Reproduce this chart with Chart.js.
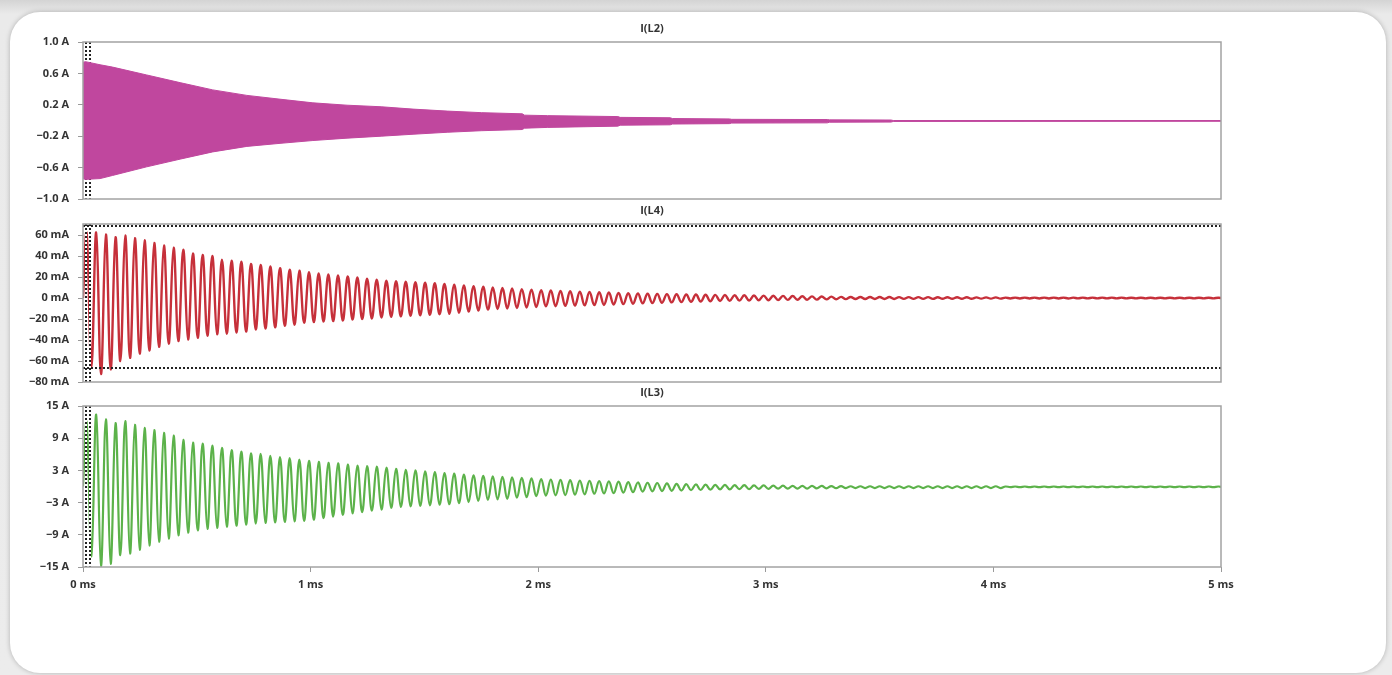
<!DOCTYPE html>
<html><head><meta charset="utf-8">
<script src="https://cdn.jsdelivr.net/npm/chart.js@4.4.1/dist/chart.umd.min.js"></script>
<style>
html,body{margin:0;padding:0;width:1392px;height:675px;overflow:hidden;background:#e6e6e6;}
#bg{position:absolute;left:0;top:0;width:1392px;height:675px;background:linear-gradient(#d4d4d4,#eaeaea 14px,#ececec);}
#card{position:absolute;left:10px;top:12px;width:1376px;height:661px;background:#fff;border-radius:30px;box-shadow:0 0 5px rgba(0,0,0,0.25);}
canvas{position:absolute;left:0;top:0;}
</style></head><body>
<div id="bg"></div><div id="card"></div>
<canvas id="c1" width="1392" height="675"></canvas>
<canvas id="c2" width="1392" height="675"></canvas>
<canvas id="c3" width="1392" height="675"></canvas>
<script>
// ---------- data ----------
const xTicksMs = [0, 1, 2, 3, 4, 5];
const yTicksL2 = [-1.0, -0.6, -0.2, 0.2, 0.6, 1.0];
const yTicksL4 = [-80, -60, -40, -20, 0, 20, 40, 60];
const yTicksL3 = [-15, -9, -3, 3, 9, 15];

const cursorTimesMs = [0.011, 0.031];
const cursorL4mA = [68.5, -66.5];

// I(L2): envelope of the very fast oscillation
const magTimesMs = [0, 0.01, 0.075, 0.13, 0.28, 0.43, 0.57, 0.72, 0.87, 1.01, 1.16, 1.31, 1.45, 1.6, 1.75, 1.93, 1.94, 2.04, 2.35, 2.36, 2.58, 2.59, 2.84, 2.85, 3.27, 3.28, 3.55, 3.56, 5.0];
const magUpperA = [0.74, 0.75, 0.71, 0.68, 0.58, 0.48, 0.39, 0.32, 0.27, 0.225, 0.195, 0.175, 0.145, 0.12, 0.1, 0.085, 0.068, 0.062, 0.05, 0.04, 0.035, 0.025, 0.02, 0.015, 0.012, 0.008, 0.006, 0.0, 0.0];
const magLowerA = [-0.74, -0.75, -0.74, -0.70, -0.59, -0.49, -0.40, -0.33, -0.29, -0.255, -0.225, -0.2, -0.175, -0.15, -0.13, -0.115, -0.098, -0.088, -0.072, -0.06, -0.055, -0.045, -0.04, -0.033, -0.03, -0.022, -0.02, -0.012, -0.01];

// start of the ringing (before first full peak)
const leadTimesMs = [0, 0.016, 0.037];
const redLeadmA = [0, 62, -66];
const greenLeadA = [0, 12, -13];

// times of each maximum and minimum of the ringing
const peakTimesMs = [0.058,0.1005,0.143,0.1855,0.228,0.2705,0.313,0.3555,0.398,0.4405,
0.483,0.5255,0.568,0.6105,0.653,0.6955,0.738,0.7805,0.823,0.8655,
0.908,0.9505,0.993,1.0355,1.078,1.1205,1.163,1.2055,1.248,1.2905,
1.333,1.3755,1.418,1.4605,1.503,1.5455,1.588,1.6305,1.673,1.7155,
1.758,1.8005,1.843,1.8855,1.928,1.9705,2.013,2.0555,2.098,2.1405,
2.183,2.2255,2.268,2.3105,2.353,2.3955,2.438,2.4805,2.523,2.5655,
2.608,2.6505,2.693,2.7355,2.778,2.8205,2.863,2.9055,2.948,2.9905,
3.033,3.0755,3.118,3.1605,3.203,3.2455,3.288,3.3305,3.373,3.4155,
3.458,3.5005,3.543,3.5855,3.628,3.6705,3.713,3.7555,3.798,3.8405,
3.883,3.9255,3.968,4.0105,4.053,4.0955,4.138,4.1805,4.223,4.2655,
4.308,4.3505,4.393,4.4355,4.478,4.5205,4.563,4.6055,4.648,4.6905,
4.733,4.7755,4.818,4.8605,4.903,4.9455,4.988];
const troughTimesMs = [0.079,0.1215,0.164,0.2065,0.249,0.2915,0.334,0.3765,0.419,0.4615,
0.504,0.5465,0.589,0.6315,0.674,0.7165,0.759,0.8015,0.844,0.8865,
0.929,0.9715,1.014,1.0565,1.099,1.1415,1.184,1.2265,1.269,1.3115,
1.354,1.3965,1.439,1.4815,1.524,1.5665,1.609,1.6515,1.694,1.7365,
1.779,1.8215,1.864,1.9065,1.949,1.9915,2.034,2.0765,2.119,2.1615,
2.204,2.2465,2.289,2.3315,2.374,2.4165,2.459,2.5015,2.544,2.5865,
2.629,2.6715,2.714,2.7565,2.799,2.8415,2.884,2.9265,2.969,3.0115,
3.054,3.0965,3.139,3.1815,3.224,3.2665,3.309,3.3515,3.394,3.4365,
3.479,3.5215,3.564,3.6065,3.649,3.6915,3.734,3.7765,3.819,3.8615,
3.904,3.9465,3.989,4.0315,4.074,4.1165,4.159,4.2015,4.244,4.2865,
4.329,4.3715,4.414,4.4565,4.499,4.5415,4.584,4.6265,4.669,4.7115,
4.754,4.7965,4.839,4.8815,4.924,4.9665,5.009];

// I(L4) in mA
const redPeaksmA = [62.5,60.5,58,59.5,57,55,52.5,50,48,46,42.5,41,40,36.5,35.5,34.5,32.5,31.5,30,28.5,27,26,24.5,
23.5,22.5,21.5,20.5,19.5,18.5,17.5,
16.5,16,15.5,15,14.5,14,
13.5,12.8,12,11.3,10.7,
10,9.5,9,8.5,8,
7.5,7.1,6.8,6.4,6.1,5.8,
5.5,5.2,4.9,4.6,4.3,
4,3.9,3.7,3.6,3.4,3.3,3.1,
3,2.9,2.7,2.6,2.4,2.3,2.1,
2,1.9,1.7,1.6,1.4,1.3,1.1,
1,1,0.9,0.9,0.9,0.8,0.8,0.8,
0.8,0.7,0.7,0.7,0.7,0.6,0.6,0.6,
0.4,0.4,0.4,0.4,0.4,0.4,0.4,0.35,0.35,0.35,0.35,0.35,0.35,0.3,0.3,0.3,0.3,0.3,0.3,0.3,0.3,0.3,0.3];
const redTroughsmA = [-72.5,-68,-60,-57,-53,-50,-46.5,-43.5,-41,-39.5,-38,-36,-34.5,-34,-33,-32,-30,-29,-28,-26.5,-25.5,-23.5,
-23,-22.5,-22,-21.5,-20.5,-20,-19.5,-18.5,
-18,-17.5,-17,-16.5,-16,-15.5,
-15,-14,-13,-12,-11,
-10.5,-10,-9.5,-9,-8.5,
-8,-7.8,-7.5,-7.2,-7,-6.8,
-6.6,-6.2,-5.8,-5.4,-5,
-4.8,-4.5,-4.2,-3.9,-3.6,-3.3,-3.1,
-2.8,-2.7,-2.5,-2.4,-2.2,-2.1,-1.9,
-1.8,-1.7,-1.6,-1.5,-1.3,-1.2,-1.1,
-1,-1,-0.9,-0.9,-0.9,-0.8,-0.8,-0.8,
-0.8,-0.7,-0.7,-0.7,-0.7,-0.6,-0.6,-0.6,
-0.4,-0.4,-0.4,-0.4,-0.4,-0.4,-0.4,-0.35,-0.35,-0.35,-0.35,-0.35,-0.35,-0.3,-0.3,-0.3,-0.3,-0.3,-0.3,-0.3,-0.3,-0.3,-0.3];

// I(L3) in A
const greenPeaksA = [13.4,12.5,11.8,12.2,11.5,10.9,10.5,10,9.5,8.7,8.2,8,7.6,7.2,6.8,6.5,6.2,6.1,5.7,5.5,5.3,5,4.8,
4.6,4.4,4.3,4.1,3.9,3.8,3.7,3.5,3.3,
3.1,3,2.8,2.7,
2.5,2.4,2.2,2.1,2,
1.9,1.8,1.7,1.6,1.5,
1.4,1.3,1.25,1.2,1.1,1.05,
1,0.95,0.9,0.8,0.75,
0.7,0.65,0.6,0.5,0.45,0.4,0.35,
0.3,0.3,0.25,0.25,0.2,0.2,0.15,
0.15,0.12,0.12,0.1,0.1,0.08,0.08,
0.05,0.05,0.05,0.05,0.05,0.05,0.05,0.05,0.05,0.05,0.05,0.05,0.05,0.05,0.05,0.05,
0,0,0,0,0,0,0,0,0,0,0,0,0,0,0,0,0,0,0,0,0,0,0];
const greenTroughsA = [-14.8,-14.4,-12.8,-12.5,-11.8,-11,-10.3,-9.7,-9.1,
-8.6,-8.2,-7.9,-7.7,-7.5,-7.3,-7.1,-6.9,-6.8,-6.7,-6.6,-6.5,-6.4,
-6.2,-5.9,-5.6,-5.3,-5.0,-4.8,-4.5,-4.3,-4.0,-3.8,
-3.7,-3.6,-3.5,-3.4,
-3.3,-3.1,-2.9,-2.7,-2.5,
-2.4,-2.3,-2.1,-2.0,-1.8,
-1.7,-1.65,-1.6,-1.5,-1.45,-1.35,
-1.3,-1.25,-1.15,-1.05,-0.95,
-0.9,-0.85,-0.8,-0.75,-0.7,-0.65,-0.6,
-0.55,-0.55,-0.5,-0.5,-0.45,-0.45,-0.4,
-0.4,-0.4,-0.38,-0.36,-0.34,-0.32,-0.3,
-0.3,-0.3,-0.3,-0.3,-0.3,-0.3,-0.3,-0.3,-0.3,-0.3,-0.3,-0.3,-0.3,-0.3,-0.3,-0.3,
-0.12,-0.12,-0.12,-0.12,-0.12,-0.12,-0.12,-0.12,-0.12,-0.12,-0.12,-0.12,-0.12,-0.12,-0.12,-0.12,-0.12,-0.12,-0.12,-0.12,-0.12,-0.12,-0.12];

// ---------- build ----------
function ringing(leadVals, peaks, troughs){
  const pts = leadTimesMs.map((t,i)=>({x:t, y:leadVals[i]}));
  for (let k=0;k<peakTimesMs.length;k++){
    pts.push({x:peakTimesMs[k], y:peaks[k]});
    pts.push({x:troughTimesMs[k], y:troughs[k]});
  }
  return pts;
}
const toXY = (ts, vs) => ts.map((t,i)=>({x:t, y:vs[i]}));

const FONT = "'Open Sans', 'DejaVu Sans', sans-serif";
const TXT = '#333';
const minus = v => (v < 0 ? '\u2212' : '');

function panelPlugin(title, cursorsOnTop, hLines){
  function cursors(chart){
    const a = chart.chartArea, ctx = chart.ctx, xs = chart.scales.x, ys = chart.scales.y;
    ctx.save();
    ctx.beginPath(); ctx.rect(a.left, a.top, a.right-a.left, a.bottom-a.top); ctx.clip();
    cursorTimesMs.forEach(t=>{
      const x = Math.round(xs.getPixelForValue(t));
      ctx.setLineDash([]); ctx.strokeStyle='#fff'; ctx.lineWidth=2;
      ctx.beginPath(); ctx.moveTo(x, a.top); ctx.lineTo(x, a.bottom); ctx.stroke();
      ctx.setLineDash([2,2]); ctx.strokeStyle='#222';
      ctx.beginPath(); ctx.moveTo(x, a.top); ctx.lineTo(x, a.bottom); ctx.stroke();
    });
    (hLines||[]).forEach(v=>{
      const y = Math.round(ys.getPixelForValue(v));
      ctx.setLineDash([2,2]); ctx.strokeStyle='#222'; ctx.lineWidth=2;
      ctx.beginPath(); ctx.moveTo(a.left, y); ctx.lineTo(a.right, y); ctx.stroke();
    });
    ctx.restore();
  }
  return {
    id:'panel_'+title.replace(/\W/g,''),
    beforeDatasetsDraw(chart){ if(!cursorsOnTop) cursors(chart); },
    afterDatasetsDraw(chart){
      if(cursorsOnTop) cursors(chart);
      const a = chart.chartArea, ctx = chart.ctx;
      ctx.save();
      ctx.strokeStyle = '#a3a3a3'; ctx.lineWidth = 1.5; ctx.setLineDash([]);
      ctx.strokeRect(a.left, a.top, a.right-a.left, a.bottom-a.top);
      ctx.fillStyle = TXT; ctx.font = "bold 11px " + FONT;
      ctx.textAlign='center'; ctx.textBaseline='middle';
      ctx.fillText(title, (a.left+a.right)/2, a.top-13);
      ctx.restore();
    }
  };
}

function options(yMin, yMax, yTicks, fmt, showX, padTop, padBottom){
  return {
    responsive:false, animation:false, devicePixelRatio:1,
    layout:{padding:{left:0, right:171, top:padTop, bottom:padBottom}},
    plugins:{legend:{display:false}, tooltip:{enabled:false}, title:{display:false}},
    elements:{point:{radius:0}},
    scales:{
      x:{type:'linear', min:0, max:5, display:showX,
         afterBuildTicks: s => { s.ticks = xTicksMs.map(v=>({value:v})); },
         afterFit: s => { s.height = showX ? 30 : 0; },
         grid:{drawOnChartArea:false, drawTicks:true, tickLength:5, color:'#9a9a9a'},
         border:{display:false},
         ticks:{padding:6, color:TXT, font:{family:FONT, size:11, weight:'bold'}, maxRotation:0,
                callback: v => v + ' ms'}},
      y:{type:'linear', min:yMin, max:yMax,
         afterBuildTicks: s => { s.ticks = yTicks.map(v=>({value:v})); },
         afterFit: s => { s.width = 83; },
         grid:{drawOnChartArea:false, drawTicks:true, tickLength:5, color:'#9a9a9a'},
         border:{display:false},
         ticks:{padding:9, color:TXT, font:{family:FONT, size:11, weight:'bold'}, callback: fmt}}
    }
  };
}

new Chart(document.getElementById('c1'), {
  type:'line',
  data:{datasets:[
    {data:toXY(magTimesMs, magUpperA), borderColor:'#c0479e', backgroundColor:'#c0479e', borderWidth:1, fill:'+1', tension:0},
    {data:toXY(magTimesMs, magLowerA), borderColor:'#c0479e', backgroundColor:'#c0479e', borderWidth:1, fill:false, tension:0}
  ]},
  options: options(-1, 1, yTicksL2, v => minus(v) + Math.abs(v).toFixed(1) + ' A', false, 42, 476),
  plugins:[panelPlugin('I(L2)', false, null)]
});

new Chart(document.getElementById('c2'), {
  type:'line',
  data:{datasets:[
    {data:ringing(redLeadmA, redPeaksmA, redTroughsmA), borderColor:'#c6303a', borderWidth:2.4, fill:false, tension:0.4}
  ]},
  options: options(-80, 70.5, yTicksL4, v => minus(v) + Math.abs(v) + ' mA', false, 224, 293),
  plugins:[panelPlugin('I(L4)', true, cursorL4mA)]
});

new Chart(document.getElementById('c3'), {
  type:'line',
  data:{datasets:[
    {data:ringing(greenLeadA, greenPeaksA, greenTroughsA), borderColor:'#5cb24a', borderWidth:2.2, fill:false, tension:0.4}
  ]},
  options: options(-15, 15, yTicksL3, v => minus(v) + Math.abs(v) + ' A', true, 406, 78),
  plugins:[panelPlugin('I(L3)', true, null)]
});
</script>
</body></html>
